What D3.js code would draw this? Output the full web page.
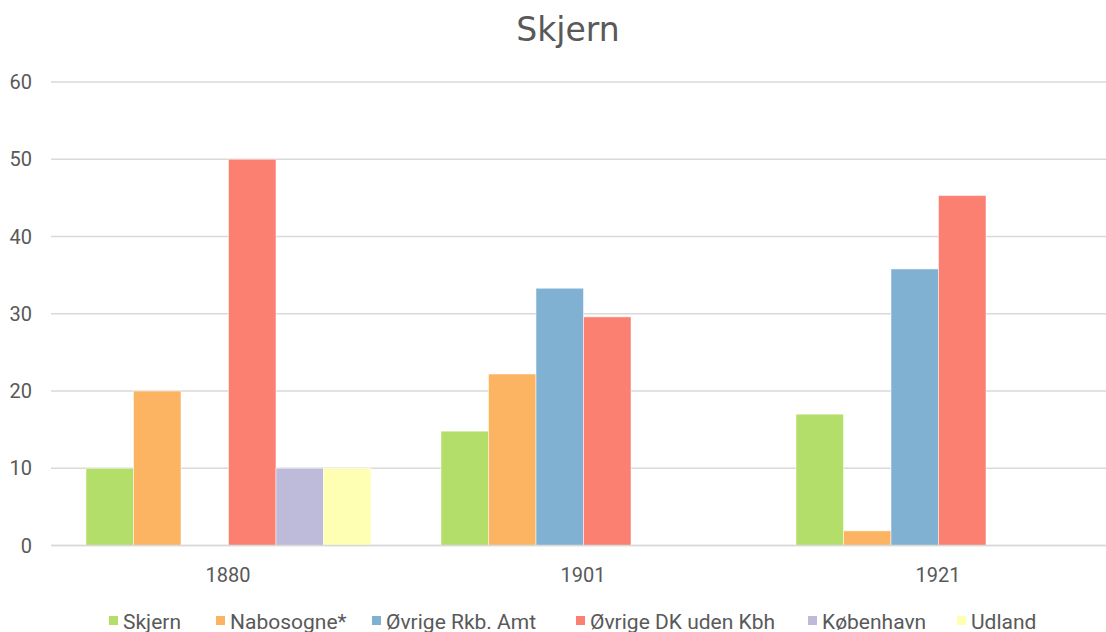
<!DOCTYPE html>
<html><head><meta charset="utf-8">
<script src="https://cdn.jsdelivr.net/npm/d3@7"></script>
<style>body{margin:0;background:#fff;overflow:hidden}</style>
</head><body>
<svg id="c" width="1106" height="632"></svg>
<script>
const categories = ["1880", "1901", "1921"];
const seriesNames = ["Skjern", "Nabosogne*", "Øvrige Rkb. Amt", "Øvrige DK uden Kbh", "København", "Udland"];
const skjern = [10, 14.8, 17.0];
const nabosogne = [20, 22.2, 1.9];
const ovrigeRkb = [0, 33.3, 35.8];
const ovrigeDK = [50, 29.6, 45.3];
const kobenhavn = [10, 0, 0];
const udland = [10, 0, 0];
const yTicks = [0, 10, 20, 30, 40, 50, 60];
const colors = ["#b3de69", "#fdb462", "#80b1d3", "#fb8072", "#bebada", "#ffffb3"];

const seriesValues = [skjern, nabosogne, ovrigeRkb, ovrigeDK, kobenhavn, udland];
const svg = d3.select("#c");
const x = d3.scaleBand().domain(categories).range([51, 1116]).paddingInner(0).paddingOuter(0);
const step = x.bandwidth();
const xs = d3.scaleBand().domain(seriesNames).range([step * 0.0986, step * 0.9014]).padding(0);
const y = d3.scaleLinear().domain([0, 60]).range([545.5, 82]);

// gridlines
svg.append("g").selectAll("line").data(yTicks).join("line")
  .attr("x1", 51).attr("x2", 1116)
  .attr("y1", d => y(d)).attr("y2", d => y(d))
  .attr("stroke", "#d9d9d9").attr("stroke-width", 1.5);

// y labels
svg.append("g").selectAll("text").data(yTicks).join("text")
  .attr("x", 32).attr("y", d => y(d) + 7)
  .attr("text-anchor", "end")
  .attr("font-family", "Roboto, sans-serif").attr("font-size", 20)
  .attr("fill", "#595959").text(d => d);

// bars
const data = [];
categories.forEach((c, ci) => seriesNames.forEach((s, si) => data.push({c, s, si, v: seriesValues[si][ci]})));
svg.append("g").selectAll("rect").data(data.filter(d => d.v > 0)).join("rect")
  .attr("x", d => x(d.c) + xs(d.s))
  .attr("width", xs.bandwidth())
  .attr("y", d => y(d.v))
  .attr("height", d => y(0) - y(d.v))
  .attr("fill", d => colors[d.si])
  .attr("stroke", "#ffffff").attr("stroke-opacity", 0.5).attr("stroke-width", 1);

// baseline
svg.append("line").attr("x1", 51).attr("x2", 1116).attr("y1", y(0)).attr("y2", y(0))
  .attr("stroke", "#d9d9d9").attr("stroke-width", 1.5);

// x labels
svg.append("g").selectAll("text").data(categories).join("text")
  .attr("x", d => x(d) + step / 2 - 0.5).attr("y", 582)
  .attr("text-anchor", "middle")
  .attr("font-family", "Roboto, sans-serif").attr("font-size", 20)
  .attr("fill", "#595959").text(d => d);

// title
svg.append("text").attr("x", 568).attr("y", 41).attr("text-anchor", "middle")
  .attr("font-family", "DejaVu Sans, sans-serif").attr("font-size", 33)
  .attr("fill", "#595959").text("Skjern");

// legend
const legendX = [109, 216, 372, 576, 808, 957];
const lg = svg.append("g").selectAll("g").data(seriesNames).join("g")
  .attr("transform", (d, i) => `translate(${legendX[i]},0)`);
lg.append("rect").attr("x", 0).attr("y", 616).attr("width", 9).attr("height", 9)
  .attr("fill", (d, i) => colors[i]);
lg.append("text").attr("x", 14).attr("y", 628.5)
  .attr("font-family", "Roboto, sans-serif").attr("font-size", 21)
  .attr("fill", "#595959").text(d => d);
</script>
</body></html>
